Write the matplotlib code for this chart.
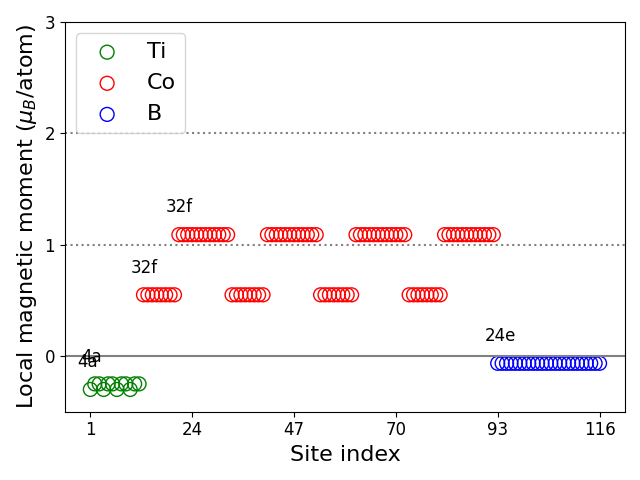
import matplotlib
matplotlib.use("Agg")
import matplotlib.pyplot as plt
import numpy as np

# Site indices and moments
ti_idx = list(range(1, 13))
ti_mom = [-0.30, -0.25, -0.25, -0.30, -0.25, -0.25, -0.30, -0.25, -0.25, -0.30, -0.25, -0.25]

co_idx = list(range(13, 93))
co_low, co_high = 0.55, 1.09
co_pattern = [co_low] * 8 + [co_high] * 12
co_mom = co_pattern * 4

b_idx = list(range(93, 117))
b_mom = [-0.065] * 24

xticks = [1, 24, 47, 70, 93, 116]
yticks = [0, 1, 2, 3]

# Labels: (text, first site index, moment)
site_labels = [("4a", 1, -0.30), ("4a", 2, -0.25), ("32f", 13, co_low),
               ("32f", 21, co_high), ("24e", 93, -0.065)]

fig, ax = plt.subplots(figsize=(6.4, 4.8), dpi=100)

ax.axhline(0, color="gray", lw=1.5, ls="-")
ax.axhline(1, color="gray", lw=1.5, ls=":")
ax.axhline(2, color="gray", lw=1.5, ls=":")

ax.scatter(ti_idx, ti_mom, s=100, facecolors="none", edgecolors="green", label="Ti")
ax.scatter(co_idx, co_mom, s=100, facecolors="none", edgecolors="red", label="Co")
ax.scatter(b_idx, b_mom, s=100, facecolors="none", edgecolors="blue", label="B")

for txt, x0, y0 in site_labels:
    ax.text(x0 - 3, y0 + 0.2, txt, fontsize=12)

ax.set_ylim(-0.5, 3)
ax.set_xticks(xticks)
ax.set_yticks(yticks)
ax.tick_params(labelsize=12)
ax.set_xlabel("Site index", fontsize=16)
ax.set_ylabel(r"Local magnetic moment ($\mu_B$/atom)", fontsize=16)
ax.legend(loc="upper left", fontsize=16)

fig.tight_layout()
fig.savefig("out.png", dpi=100)
